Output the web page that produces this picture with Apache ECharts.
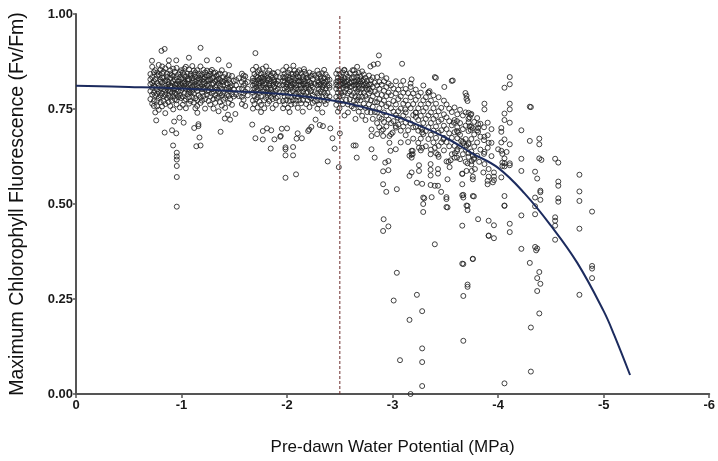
<!DOCTYPE html>
<html><head><meta charset="utf-8">
<script src="https://cdn.jsdelivr.net/npm/echarts@6/dist/echarts.min.js"></script>
<style>html,body{margin:0;padding:0;background:#fff}#c{width:718px;height:461px}</style>
</head><body><div id="c"></div>
<script>
// Axis ticks
const xTicks = [0, -1, -2, -3, -4, -5, -6];
const yTicks = [0, 0.25, 0.5, 0.75, 1.0];
const thresholdX = -2.5;

// Fitted curve
const curveX = [0, -0.5, -1, -1.5, -2, -2.5, -3, -3.25, -3.5, -3.75, -4, -4.25, -4.5, -4.75, -5, -5.1, -5.25];
const curveY = [0.811, 0.808, 0.804, 0.797, 0.788, 0.769, 0.733, 0.707, 0.675, 0.634, 0.595, 0.528, 0.443, 0.345, 0.218, 0.155, 0.05];

// Dense band, columns of [x, [y...]]
const denseCols = [
[-0.705,[0.842,0.815,0.797,0.776,0.828]],[-0.722,[0.861,0.834,0.806,0.788,0.764,0.819]],
[-0.738,[0.847,0.823,0.793,0.758,0.812,0.771]],[-0.751,[0.852,0.808,0.786,0.741,0.829]],
[-0.769,[0.838,0.818,0.801,0.772,0.846,0.757,0.790]],[-0.784,[0.866,0.841,0.812,0.795,0.779,0.748]],
[-0.801,[0.853,0.827,0.804,0.768,0.822,0.786]],[-0.816,[0.844,0.819,0.809,0.791,0.757,0.862,0.833]],
[-0.829,[0.831,0.802,0.783,0.771,0.848]],[-0.846,[0.857,0.824,0.798,0.787,0.763,0.739,0.811]],
[-0.862,[0.843,0.826,0.807,0.779,0.803,0.835]],[-0.877,[0.864,0.821,0.799,0.785,0.768,0.815]],
[-0.893,[0.851,0.832,0.811,0.781,0.758,0.797,0.842]],[-0.908,[0.839,0.818,0.793,0.772,0.809]],
[-0.921,[0.836,0.822,0.801,0.784,0.749,0.856]],[-0.937,[0.848,0.827,0.814,0.792,0.776,0.805]],
[-0.953,[0.858,0.834,0.817,0.788,0.762,0.802,0.773]],[-0.968,[0.841,0.823,0.796,0.781,0.814]],
[-0.984,[0.833,0.816,0.807,0.786,0.754,0.847]],[-0.997,[0.852,0.828,0.799,0.779,0.812]],
[-1.012,[0.846,0.831,0.804,0.783,0.761,0.818]],[-1.027,[0.839,0.822,0.811,0.792,0.772,0.856]],
[-1.041,[0.861,0.835,0.803,0.776,0.752,0.817]],[-1.058,[0.843,0.824,0.808,0.789,0.828]],
[-1.071,[0.854,0.829,0.801,0.781,0.764,0.816,0.795]],[-1.086,[0.842,0.813,0.793,0.771,0.838]],
[-1.102,[0.863,0.832,0.819,0.798,0.782,0.808]],[-1.117,[0.851,0.841,0.812,0.791,0.767,0.826]],
[-1.131,[0.834,0.821,0.804,0.778,0.846,0.752]],[-1.148,[0.852,0.826,0.811,0.773,0.758,0.797]],
[-1.163,[0.843,0.831,0.806,0.787,0.819]],[-1.179,[0.862,0.827,0.809,0.781,0.766,0.838]],
[-1.194,[0.841,0.833,0.802,0.793,0.772,0.815]],[-1.208,[0.853,0.821,0.807,0.784,0.829]],
[-1.223,[0.846,0.834,0.803,0.776,0.751,0.818]],[-1.241,[0.851,0.823,0.812,0.788,0.839,0.797]],
[-1.256,[0.837,0.816,0.799,0.771,0.826]],[-1.272,[0.849,0.828,0.806,0.783,0.762,0.842]],
[-1.288,[0.853,0.831,0.814,0.791,0.802]],[-1.303,[0.832,0.817,0.796,0.776,0.845,0.751]],
[-1.319,[0.846,0.824,0.808,0.786,0.766]],[-1.334,[0.838,0.826,0.801,0.779,0.812]],
[-1.351,[0.829,0.818,0.797,0.782,0.744,0.841]],[-1.366,[0.843,0.811,0.791,0.768,0.826]],
[-1.382,[0.852,0.823,0.804,0.786,0.759]],[-1.397,[0.834,0.812,0.793,0.774,0.821]],
[-1.413,[0.842,0.826,0.801,0.779,0.753]],[-1.428,[0.831,0.805,0.787,0.818]],
[-1.446,[0.826,0.803,0.784,0.766,0.839]],[-1.461,[0.818,0.797,0.776,0.808]],
[-1.478,[0.837,0.812,0.789,0.761]],[-1.494,[0.824,0.802,0.783]],
[-1.517,[0.812,0.788,0.826]],[-1.542,[0.831,0.784,0.803]],
[-1.572,[0.843,0.821,0.804,0.782,0.763]],[-1.588,[0.829,0.812,0.791,0.774,0.838]],
[-1.604,[0.836,0.817,0.796,0.758]],[-1.627,[0.821,0.803,0.786]],
[-1.676,[0.853,0.831,0.812,0.793,0.772,0.751,0.824]],[-1.691,[0.842,0.823,0.804,0.784,0.763,0.816]],
[-1.707,[0.861,0.836,0.817,0.797,0.776,0.808]],[-1.722,[0.847,0.826,0.802,0.781,0.754,0.833]],
[-1.738,[0.852,0.829,0.811,0.792,0.769,0.818]],[-1.753,[0.843,0.821,0.806,0.784,0.761,0.742,0.832]],
[-1.769,[0.856,0.834,0.813,0.796,0.823]],[-1.784,[0.841,0.818,0.801,0.773,0.752,0.829]],
[-1.801,[0.862,0.837,0.815,0.794,0.779,0.806]],[-1.816,[0.844,0.825,0.803,0.786,0.764,0.831]],
[-1.832,[0.851,0.829,0.812,0.791,0.771,0.817]],[-1.847,[0.838,0.823,0.801,0.782,0.806]],
[-1.863,[0.832,0.814,0.793,0.776,0.752,0.845]],[-1.878,[0.843,0.822,0.808,0.789,0.826]],
[-1.894,[0.836,0.817,0.798,0.779,0.761]],[-1.912,[0.847,0.824,0.803,0.782,0.815]],
[-1.928,[0.833,0.812,0.794,0.771]],
[-1.962,[0.852,0.834,0.813,0.792,0.771,0.752,0.824]],[-1.977,[0.843,0.821,0.804,0.783,0.762,0.831]],
[-1.993,[0.861,0.836,0.815,0.796,0.774,0.808]],[-2.008,[0.846,0.827,0.802,0.784,0.753,0.819]],
[-2.024,[0.853,0.832,0.811,0.793,0.771,0.742,0.826]],[-2.039,[0.842,0.823,0.806,0.781,0.762,0.813]],
[-2.055,[0.834,0.816,0.797,0.773,0.842]],[-2.071,[0.851,0.826,0.803,0.786,0.764,0.818]],
[-2.086,[0.843,0.831,0.812,0.791,0.772,0.805]],[-2.102,[0.836,0.824,0.801,0.782,0.753,0.847]],
[-2.117,[0.852,0.833,0.814,0.794,0.773,0.823]],[-2.133,[0.844,0.822,0.804,0.786,0.765,0.812]],
[-2.149,[0.835,0.817,0.796,0.774,0.743,0.828]],[-2.164,[0.848,0.823,0.803,0.784,0.815]],
[-2.181,[0.841,0.832,0.811,0.792,0.763,0.806]],[-2.196,[0.833,0.814,0.795,0.773,0.826]],
[-2.212,[0.846,0.821,0.803,0.781,0.755]],[-2.228,[0.837,0.818,0.797,0.778,0.812]],
[-2.244,[0.829,0.808,0.787,0.766,0.842]],[-2.262,[0.838,0.816,0.794,0.771]],
[-2.287,[0.851,0.832,0.812,0.791,0.772,0.751,0.823]],[-2.302,[0.842,0.821,0.803,0.784,0.762,0.814]],
[-2.318,[0.836,0.815,0.796,0.774,0.829]],[-2.334,[0.844,0.823,0.801,0.782,0.741,0.808]],
[-2.351,[0.853,0.831,0.813,0.793,0.771,0.819]],[-2.366,[0.841,0.822,0.804,0.763,0.786]],
[-2.383,[0.834,0.811,0.792,0.774,0.826]],[-2.402,[0.827,0.806,0.783,0.812]],
[-2.466,[0.843,0.821,0.803,0.782,0.761,0.814]],[-2.482,[0.852,0.832,0.811,0.793,0.772,0.743,0.824]],
[-2.497,[0.841,0.823,0.801,0.784,0.752,0.812]],[-2.513,[0.834,0.814,0.792,0.771,0.827]],
[-2.529,[0.846,0.826,0.806,0.786,0.763,0.817]],[-2.544,[0.853,0.831,0.812,0.794,0.733,0.821]],
[-2.561,[0.842,0.822,0.803,0.774,0.811]],[-2.577,[0.835,0.813,0.791,0.762,0.741,0.826]],
[-2.594,[0.844,0.818,0.796,0.776,0.808]],[-2.612,[0.831,0.809,0.786,0.757,0.822]],
[-2.633,[0.852,0.834,0.813,0.792,0.771,0.752,0.823]],[-2.648,[0.843,0.821,0.804,0.783,0.762,0.724,0.812]],
[-2.664,[0.861,0.835,0.815,0.796,0.774,0.826]],[-2.679,[0.845,0.823,0.802,0.781,0.743,0.811]],
[-2.695,[0.836,0.817,0.794,0.773,0.754,0.828]],[-2.711,[0.849,0.824,0.803,0.782,0.732,0.812]],
[-2.727,[0.841,0.813,0.792,0.764,0.826]],[-2.743,[0.832,0.806,0.784,0.753,0.721,0.817]],
[-2.759,[0.824,0.801,0.776,0.742,0.812]],[-2.776,[0.838,0.814,0.791,0.762,0.803]],
[-2.794,[0.826,0.797,0.773,0.741,0.815]],[-2.812,[0.833,0.808,0.783,0.756,0.724]],
[-2.831,[0.819,0.796,0.768,0.742]]
];

// Descending band, columns of [x, [y...]]
const slopeCols = [
[-2.853,[0.834,0.812,0.789,0.768,0.741,0.713,0.684]],[-2.874,[0.821,0.803,0.776,0.752,0.728,0.702]],
[-2.896,[0.838,0.814,0.787,0.763,0.724,0.693]],[-2.918,[0.823,0.798,0.772,0.741,0.716]],
[-2.941,[0.831,0.808,0.784,0.757,0.733,0.704]],[-2.962,[0.817,0.793,0.764,0.722]],
[-2.985,[0.812,0.786,0.752,0.713,0.684]],[-3.008,[0.804,0.771,0.743,0.718]],
[-3.031,[0.823,0.791,0.762,0.734,0.701]],[-3.054,[0.801,0.776,0.744,0.709]],
[-3.077,[0.812,0.783,0.751,0.722,0.693,0.662]],[-3.101,[0.824,0.793,0.764,0.733,0.704]],
[-3.124,[0.803,0.772,0.741,0.714,0.681]],[-3.147,[0.792,0.761,0.723,0.694,0.663]],
[-3.171,[0.808,0.781,0.752,0.712]],[-3.195,[0.791,0.763,0.734,0.702,0.672]],
[-3.219,[0.801,0.774,0.741,0.703]],[-3.243,[0.784,0.752,0.721,0.693,0.661]],
[-3.267,[0.793,0.762,0.732,0.701,0.672,0.641]],[-3.291,[0.812,0.773,0.744,0.713,0.684]],
[-3.315,[0.781,0.753,0.724,0.692,0.652]],[-3.339,[0.794,0.764,0.733,0.702,0.671]],
[-3.363,[0.772,0.741,0.713,0.682,0.643]],[-3.387,[0.786,0.752,0.724,0.693,0.662]],
[-3.411,[0.764,0.732,0.704,0.674,0.634]],[-3.436,[0.781,0.744,0.717,0.688,0.653,0.624]],
[-3.461,[0.753,0.722,0.694,0.662]],[-3.486,[0.772,0.736,0.706,0.674,0.641]],
[-3.511,[0.762,0.728,0.697,0.663,0.612]],[-3.536,[0.751,0.718,0.686,0.652]],
[-3.561,[0.742,0.707,0.674,0.631]],[-3.587,[0.754,0.721,0.689,0.653,0.622]],
[-3.613,[0.736,0.702,0.673,0.644]],[-3.639,[0.748,0.713,0.682,0.652,0.618]],
[-3.666,[0.733,0.697,0.664,0.631]],[-3.692,[0.741,0.706,0.671,0.643,0.611]],
[-3.719,[0.724,0.692,0.657,0.624]],[-3.746,[0.737,0.703,0.671,0.638,0.604]],
[-3.773,[0.716,0.683,0.651,0.621]],[-3.801,[0.726,0.694,0.662,0.627]],
[-3.832,[0.711,0.677,0.643]],[-3.866,[0.702,0.668,0.632]],
[-3.901,[0.714,0.681,0.648]],[-3.937,[0.697,0.661,0.626]]
];

// Individually read points (left half)
const leftPts = [
[-0.72,0.877],[-0.81,0.903],[-0.84,0.908],[-0.88,0.878],[-0.95,0.878],[-1.07,0.885],[-1.18,0.911],[-1.24,0.878],
[-1.35,0.88],[-1.45,0.865],[-1.70,0.897],[-2.06,0.864],[-2.16,0.855],[-2.54,0.852],[-2.62,0.852],
[-0.76,0.72],[-0.84,0.688],[-0.91,0.694],[-0.95,0.686],[-0.92,0.654],[-0.955,0.635],[-0.955,0.625],[-0.955,0.617],
[-0.955,0.60],[-0.955,0.571],[-0.955,0.493],[-0.93,0.717],[-0.98,0.727],[-1.02,0.714],[-1.12,0.70],[-1.15,0.74],
[-1.16,0.71],[-1.16,0.705],[-1.14,0.652],[-1.18,0.654],[-1.17,0.675],[-1.37,0.69],[-1.41,0.725],[-1.46,0.722],
[-1.44,0.735],[-1.51,0.737],[-1.67,0.709],[-1.70,0.673],[-1.77,0.67],[-1.77,0.692],[-1.81,0.699],[-1.85,0.694],
[-1.845,0.646],[-1.88,0.67],[-1.935,0.677],[-1.95,0.698],[-1.94,0.679],[-1.985,0.649],[-1.985,0.644],[-1.985,0.628],
[-2.0,0.699],[-2.057,0.65],[-2.057,0.628],[-1.985,0.569],[-2.085,0.578],[-2.09,0.672],[-2.10,0.686],[-2.14,0.673],
[-2.20,0.692],[-2.21,0.696],[-2.23,0.703],[-2.27,0.722],[-2.31,0.708],[-2.34,0.705],[-2.385,0.612],[-2.41,0.699],
[-2.43,0.673],[-2.45,0.646],[-2.49,0.597],[-2.50,0.686],[-2.63,0.654]
];

// Individually read points (middle)
const midPts = [
[-2.79,0.862],[-2.82,0.867],[-2.86,0.869],[-2.87,0.891],[-3.09,0.869],[-3.18,0.828],[-3.17,0.817],[-3.40,0.834],
[-3.41,0.832],[-3.49,0.808],[-3.56,0.824],[-3.57,0.825],[-3.34,0.793],[-3.35,0.797],
[-2.65,0.654],[-2.66,0.622],[-2.80,0.644],[-2.83,0.622],[-2.80,0.696],[-2.80,0.679],[-2.91,0.696],[-2.91,0.679],
[-2.97,0.679],[-2.97,0.661],[-3.0,0.688],[-3.03,0.705],[-3.05,0.727],[-3.12,0.749],[-3.22,0.74],[-3.22,0.729],
[-3.28,0.696],[-3.28,0.688],[-2.98,0.64],[-3.03,0.644],[-2.93,0.609],[-2.96,0.613],[-2.91,0.586],[-2.96,0.589],
[-2.91,0.552],[-2.94,0.532],[-3.04,0.539],[-3.16,0.574],[-3.18,0.583],[-3.18,0.64],[-3.18,0.63],[-3.18,0.622],
[-3.25,0.602],[-3.25,0.587],[-3.28,0.648],[-3.25,0.648],[-3.23,0.556],[-3.28,0.553],[-3.36,0.605],[-3.36,0.59],
[-3.36,0.575],[-3.36,0.55],[-3.36,0.631],[-3.40,0.648],[-3.43,0.592],[-3.43,0.58],[-3.43,0.548],[-3.43,0.63],
[-3.40,0.548],[-3.52,0.565],[-3.54,0.597],[-3.55,0.615],[-3.53,0.611],[-3.59,0.634],[-3.30,0.515],[-3.37,0.518],
[-3.51,0.518],[-3.29,0.517],[-3.29,0.479],[-3.29,0.50],[-3.51,0.513],[-3.51,0.492],[-3.46,0.532],[-2.915,0.46],
[-2.96,0.441],[-2.91,0.429],[-3.40,0.394],[-3.04,0.319],[-3.23,0.261],[-3.01,0.246],[-3.28,0.218],[-3.16,0.195],
[-3.28,0.12],[-3.07,0.089],[-3.28,0.084],[-3.28,0.021],[-3.17,0.0],[-3.62,0.688],[-3.58,0.714],[-3.48,0.67],
[-3.16,0.627],[-3.19,0.64],[-3.19,0.631]
];

// Individually read points (right)
const rightPts = [
[-3.69,0.792],[-3.70,0.785],[-3.70,0.777],[-3.71,0.771],[-3.87,0.764],[-3.87,0.749],[-4.06,0.806],[-4.11,0.815],[-4.11,0.834],
[-3.66,0.579],[-3.67,0.524],[-3.67,0.517],[-3.70,0.496],[-3.76,0.521],[-3.81,0.46],[-3.91,0.456],[-3.96,0.444],
[-3.66,0.443],[-3.86,0.583],[-3.78,0.592],[-3.90,0.561],[-3.90,0.552],[-3.95,0.557],[-4.04,0.609],[-4.04,0.60],
[-4.0,0.644],[-3.71,0.495],[-3.71,0.484],[-3.52,0.491],[-3.91,0.416],[-3.96,0.41],[-4.06,0.495],[-4.11,0.448],
[-4.11,0.426],[-3.67,0.342],[-3.76,0.355],[-3.71,0.288],[-3.71,0.282],[-3.67,0.258],[-3.67,0.14],[-4.06,0.028],
[-4.11,0.764],[-4.11,0.749],[-4.06,0.738],[-4.06,0.721],[-4.11,0.714],[-4.30,0.756],[-3.72,0.74],[-3.74,0.735],
[-3.73,0.728],[-3.61,0.718],[-3.61,0.692],[-3.72,0.715],[-3.73,0.705],[-3.76,0.70],[-3.74,0.695],[-3.81,0.71],
[-3.81,0.70],[-3.81,0.69],[-3.87,0.677],[-4.03,0.70],[-4.03,0.69],[-4.06,0.67],[-4.11,0.657],[-4.03,0.662],
[-3.91,0.661],[-4.22,0.694],[-4.30,0.666],[-4.39,0.672],[-4.39,0.657],[-3.65,0.666],[-3.67,0.66],[-3.70,0.653],
[-3.72,0.66],[-3.61,0.639],[-3.61,0.622],[-3.72,0.634],[-3.76,0.628],[-3.77,0.618],[-3.75,0.613],[-3.71,0.607],
[-3.70,0.587],[-3.75,0.587],[-3.82,0.611],[-3.87,0.637],[-3.87,0.605],[-3.91,0.592],[-3.91,0.572],[-3.76,0.572],
[-3.76,0.565],[-3.66,0.58],[-3.66,0.552],[-3.96,0.583],[-3.96,0.572],[-3.96,0.563],[-4.03,0.64],[-4.04,0.632],
[-4.06,0.62],[-4.08,0.637],[-4.06,0.607],[-4.03,0.57],[-4.11,0.607],[-4.11,0.602],[-4.06,0.599],[-4.22,0.619],
[-4.22,0.587],[-4.35,0.585],[-4.37,0.567],[-4.40,0.535],[-4.40,0.531],[-4.40,0.511],[-4.35,0.517],[-4.35,0.494],
[-4.35,0.473],[-4.39,0.62],[-4.41,0.616],[-4.54,0.619],[-4.57,0.609],[-4.57,0.559],[-4.57,0.548],[-4.57,0.515],
[-4.57,0.506],[-4.54,0.465],[-4.54,0.456],[-4.54,0.443],[-4.54,0.406],[-3.66,0.523],[-3.77,0.52],[-4.06,0.521],
[-4.06,0.496],[-4.22,0.47],[-3.91,0.417],[-4.22,0.382],[-4.35,0.387],[-4.37,0.383],[-4.36,0.378],[-4.30,0.345],
[-4.39,0.321],[-4.37,0.305],[-4.40,0.29],[-4.37,0.271],[-3.76,0.356],[-3.66,0.343],[-4.39,0.212],[-4.31,0.175],
[-4.31,0.059],[-4.77,0.577],[-4.77,0.533],[-4.77,0.508],[-4.77,0.435],[-4.89,0.48],[-4.89,0.337],[-4.89,0.33],
[-4.89,0.305],[-4.77,0.261],[-4.31,0.755]
];

const flat = cols => cols.flatMap(([x, ys]) => ys.map(y => [x, y]));
const scatterData = [].concat(flat(denseCols), flat(slopeCols), leftPts, midPts, rightPts);
const curveData = curveX.map((x, i) => [x, curveY[i]]);

const FONT = "'Liberation Sans', Arial, sans-serif";
const chart = echarts.init(document.getElementById('c'), null, {renderer: 'canvas'});
chart.setOption({
  animation: false,
  backgroundColor: '#fff',
  grid: {left: 73, right: 4, top: 14, bottom: 65, containLabel: false},
  xAxis: {
    type: 'value', inverse: true, min: -6, max: 0, interval: 1,
    name: 'Pre-dawn Water Potential (MPa)', nameLocation: 'middle', nameGap: 45,
    nameTextStyle: {fontFamily: FONT, fontSize: 17, color: '#111'},
    axisLine: {show: true, onZero: false, lineStyle: {color: '#555', width: 2}},
    axisTick: {show: true, length: 4, lineStyle: {color: '#555', width: 1.5}},
    axisLabel: {fontFamily: FONT, fontWeight: 'bold', fontSize: 13, color: '#1a1a1a', margin: 5,
      formatter: v => xTicks.includes(v) ? String(v) : ''},
    splitLine: {show: false}
  },
  yAxis: {
    type: 'value', min: 0, max: 1, interval: 0.25,
    name: 'Maximum Chlorophyll Fluorescence (Fv/Fm)', nameLocation: 'middle', nameGap: 48, nameRotate: 90,
    nameTextStyle: {fontFamily: FONT, fontSize: 19.5, color: '#111'},
    axisLine: {show: true, onZero: false, lineStyle: {color: '#555', width: 2}},
    axisTick: {show: true, length: 3, lineStyle: {color: '#555', width: 1.5}},
    axisLabel: {fontFamily: FONT, fontWeight: 'bold', fontSize: 13, color: '#1a1a1a', margin: 3,
      formatter: v => yTicks.includes(v) ? v.toFixed(2) : ''},
    splitLine: {show: false}
  },
  series: [
    {type: 'scatter', data: scatterData, symbol: 'circle', symbolSize: 5,
     itemStyle: {color: 'rgba(255,255,255,0)', borderColor: '#222', borderWidth: 1, opacity: 0.85},
     emphasis: {disabled: true}, z: 2},
    {type: 'line', data: [[thresholdX, 0], [thresholdX, 1]], showSymbol: false, symbol: 'none',
     lineStyle: {color: '#6b2b2b', width: 1, type: [3, 2]}, z: 3, silent: true},
    {type: 'line', data: curveData, smooth: 0.4, showSymbol: false, symbol: 'none',
     lineStyle: {color: '#1c2b5e', width: 2}, z: 4, silent: true}
  ]
});
</script></body></html>
